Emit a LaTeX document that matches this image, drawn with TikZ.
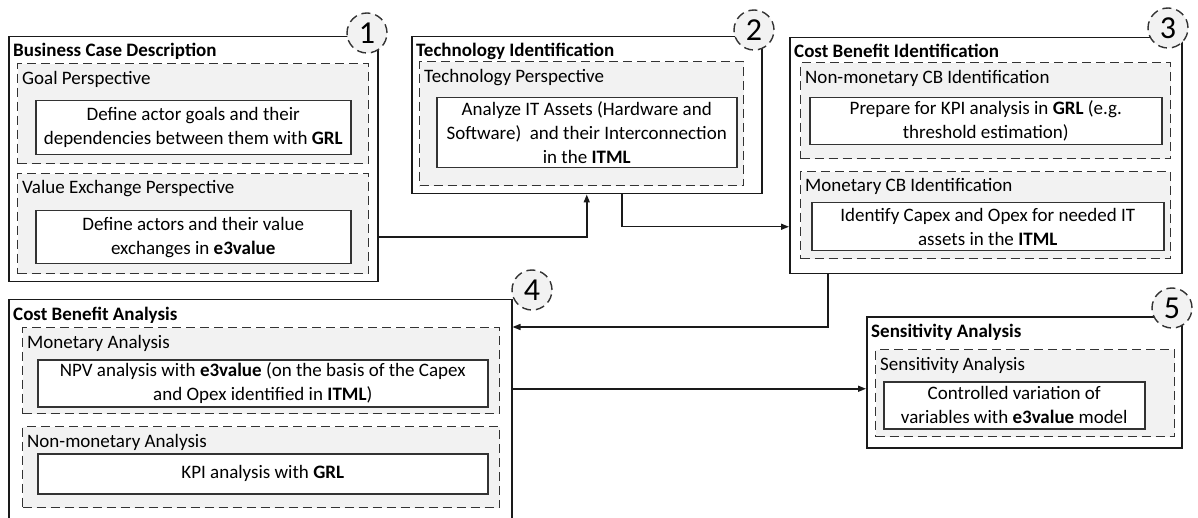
\documentclass[tikz,border=0pt]{standalone}
\usepackage{fontspec}
\setmainfont{Carlito}
\usetikzlibrary{arrows.meta,positioning,calc}
\definecolor{PhaseLine}{HTML}{1A1A1A}
\definecolor{PerspLine}{HTML}{333333}
\definecolor{PerspFill}{HTML}{F2F2F2}

\begin{document}
\begin{tikzpicture}[x=1pt,y=-1pt,
    font=\fontsize{19}{24}\selectfont,
    phase/.style={draw=PhaseLine,line width=1.5pt,fill=white,inner sep=0pt,anchor=north west},
    persp/.style={draw=PerspLine,line width=1.4pt,dash pattern=on 9pt off 5pt,fill=PerspFill,inner sep=0pt,anchor=north west},
    task/.style={draw=PerspLine,line width=1.5pt,fill=white,inner sep=0pt,anchor=north west,align=center},
    title/.style={anchor=base west,inner sep=0pt,font=\fontsize{19}{24}\selectfont\bfseries},
    tag/.style={anchor=base west,inner sep=0pt},
    badge/.style={circle,draw=PerspLine,line width=1.4pt,dash pattern=on 9pt off 5pt,fill=PerspFill,minimum size=40pt,inner sep=0pt,font=\fontsize{32}{32}\selectfont},
    flow/.style={draw=PhaseLine,line width=1.5pt,-{Triangle[length=8pt,width=6pt]}}]
  \useasboundingbox (0,0) rectangle (1198,518);

  % 1: business case
  \node[phase,minimum width=369pt,minimum height=245pt] (bcd) at (8,36) {};
  \node[title] (bcdtitle) at (13,57) {Business Case Description};
  \node[persp,minimum width=351pt,minimum height=100pt] (goalp) at (17,63) {};
  \node[tag] (goaltag) at (22,85) {Goal Perspective};
  \node[task,minimum width=315pt,minimum height=54pt] (goal) at (35,100)
    {Define actor goals and their\\dependencies between them with \textbf{GRL}};
  \node[persp,minimum width=351pt,minimum height=100pt] (valxp) at (17,173) {};
  \node[tag] (valxtag) at (22,194) {Value Exchange Perspective};
  \node[task,minimum width=315pt,minimum height=53pt] (valx) at (35,210)
    {Define actors and their value\\exchanges in \textbf{e3value}};
  \node[badge] (no1) at (367,33) {1};

  % 2: technology
  \node[phase,minimum width=350pt,minimum height=157pt] (tech) at (411,36) {};
  \node[title] (techtitle) at (416,57) {Technology Identification};
  \node[persp,minimum width=324pt,minimum height=124pt] (techp) at (419,61) {};
  \node[tag] (techtag) at (424,83) {Technology Perspective};
  \node[task,minimum width=300pt,minimum height=70pt] (itml) at (436,97)
    {Analyze IT Assets (Hardware and\\Software)~ and their Interconnection\\in the \textbf{ITML}};
  \node[badge] (no2) at (754,30) {2};

  % 3: cost benefit identification
  \node[phase,minimum width=392pt,minimum height=236pt] (cbi) at (789,37) {};
  \node[title] (cbititle) at (794,58) {Cost Benefit Identification};
  \node[persp,minimum width=370pt,minimum height=96pt] (nmonp) at (800,62) {};
  \node[tag] (nmontag) at (805,84) {Non-monetary CB Identification};
  \node[task,minimum width=352pt,minimum height=47pt] (kpiprep) at (809,97)
    {Prepare for KPI analysis in \textbf{GRL} (e.g.\\threshold estimation)};
  \node[persp,minimum width=370pt,minimum height=87pt] (monp) at (800,171) {};
  \node[tag] (montag) at (805,192) {Monetary CB Identification};
  \node[task,minimum width=352pt,minimum height=48pt] (capex) at (811,202)
    {Identify Capex and Opex for needed IT\\assets in the \textbf{ITML}};
  \node[badge] (no3) at (1168,28) {3};

  % 4: cost benefit analysis
  \node[phase,minimum width=503pt,minimum height=240pt] (cba) at (8,299) {};
  \node[title] (cbatitle) at (13,320) {Cost Benefit Analysis};
  \node[persp,minimum width=477pt,minimum height=86pt] (npvp) at (22,327) {};
  \node[tag] (npvtag) at (27,348) {Monetary Analysis};
  \node[task,minimum width=450pt,minimum height=47pt] (npv) at (37,359)
    {NPV analysis with \textbf{e3value} (on the basis of the Capex\\and Opex identified in \textbf{ITML})};
  \node[persp,minimum width=477pt,minimum height=81pt] (kpip) at (22,426) {};
  \node[tag] (kpitag) at (27,447) {Non-monetary Analysis};
  \node[task,minimum width=450pt,minimum height=40pt] (kpi) at (37,453)
    {KPI analysis with \textbf{GRL}};
  \node[badge] (no4) at (532,290) {4};

  % 5: sensitivity
  \node[phase,minimum width=315pt,minimum height=131pt] (sens) at (866,316) {};
  \node[title] (senstitle) at (871,337) {Sensitivity Analysis};
  \node[persp,minimum width=299pt,minimum height=87pt] (sensp) at (875,349) {};
  \node[tag] (senstag) at (880,370) {Sensitivity Analysis};
  \node[task,minimum width=261pt,minimum height=47pt] (ctrl) at (883,381)
    {Controlled variation of\\variables with \textbf{e3value} model};
  \node[badge] (no5) at (1172,308) {5};

  \coordinate (senstip) at ([yshift=-6.5pt]sens.west);
  \draw[flow] (bcd.east |- valx.center) -| (tech.south);
  \draw[flow] ([xshift=35pt]tech.south) |- (cbi.west |- capex.center);
  \draw[flow] ([xshift=-158pt]cbi.south) |- (cba.east |- npvp.north);
  \draw[flow] (cba.east |- senstip) -- (senstip);
\end{tikzpicture}
\end{document}
